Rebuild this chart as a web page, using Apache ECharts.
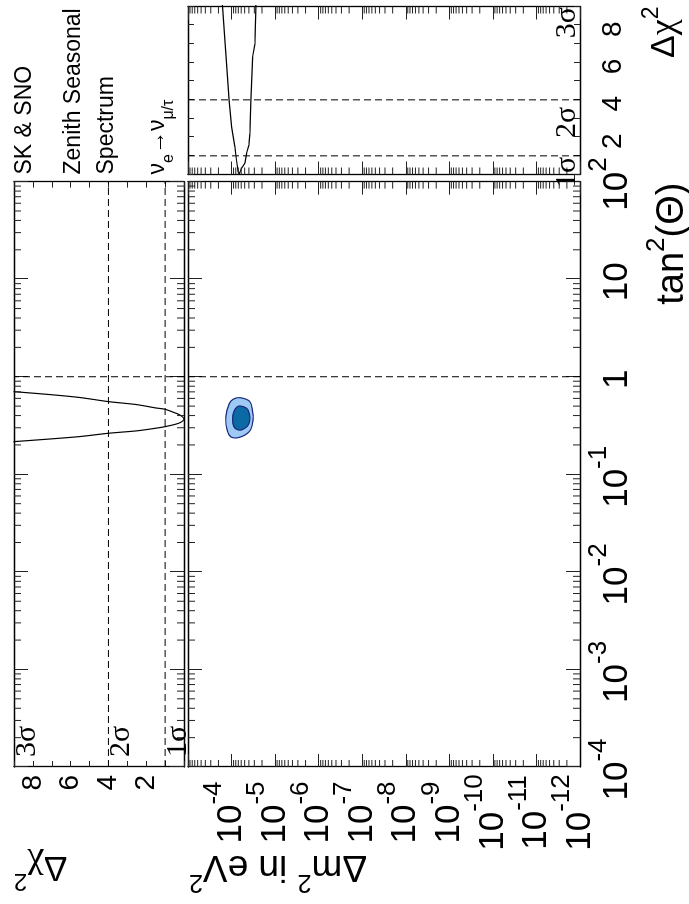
<!DOCTYPE html>
<html>
<head>
<meta charset="utf-8">
<title>SK &amp; SNO</title>
<script src="https://cdn.jsdelivr.net/npm/echarts@6.0.0/dist/echarts.min.js"></script>
<style>
html, body { margin:0; padding:0; width:689px; height:904px; overflow:hidden; background:#fff; }
#wrap { position:absolute; left:0; top:0; width:904px; height:689px; transform-origin:0 0; transform:translate(0px, 904px) rotate(-90deg); }
#chart { width:904px; height:689px; }
</style>
</head>
<body>
<div id="wrap"><div id="chart"></div></div>
<script>
// ---------------- data ----------------
const tanRange = [1e-4, 1e2];          // tan^2(Theta) axis
const dmRange = [1e-12, 1e-3];         // Delta m^2 axis (eV^2)
const chiRange = [0, 9];               // Delta chi^2 axis
const chiTickLabels = [2, 4, 6, 8];
const dmHiddenExp = [-3];
const sigmaLevels = [1, 4, 9];
const sigmaNames = ['1σ', '2σ', '3σ'];
const tanMarks = [1];
const legendLines = ['SK & SNO', 'Zenith Seasonal', 'Spectrum'];
const minorMult = [2, 3, 4, 5, 6, 7, 8, 9];

// Delta chi^2 versus tan^2(Theta)
const profTan    = [0.731, 0.7035, 0.654, 0.612, 0.556, 0.518, 0.479, 0.464, 0.428, 0.404, 0.3667, 0.339, 0.324, 0.308, 0.2965, 0.2789, 0.2635, 0.2438, 0.2309, 0.2162, 0.210];
const profTanChi = [10, 9, 7, 5.5, 4, 2.5, 1.5, 1, 0.5, 0.2, 0, 0.2, 0.5, 1, 1.5, 2.5, 4, 5.5, 7, 9, 10];

// Delta chi^2 versus Delta m^2
const profDm    = [1.65e-4, 1.61e-4, 1.134e-4, 1.0e-4, 8.4e-5, 7.69e-5, 7.04e-5, 6.68e-5, 5.9e-5, 5.41e-5, 4.95e-5, 4.53e-5, 4.01e-5, 3.8e-5, 3.6e-5, 3.3e-5, 2.92e-5, 2.77e-5, 2.74e-5];
const profDmChi = [9.3, 8.93, 3.96, 2.54, 1.48, 0.77, 0.15, 0.03, 0.33, 0.47, 0.6, 1.13, 1.57, 2.19, 3.96, 6.27, 6.98, 8.93, 9.3];

// allowed regions (outer and inner contour)
const outerTan = [0.6106, 0.5556, 0.4387, 0.3754, 0.2848, 0.2432, 0.2398, 0.2848, 0.3899, 0.526, 0.5877];
const outerDm  = [6.45e-5, 3.80e-5, 3.294e-5, 3.19e-5, 3.66e-5, 5.89e-5, 1.0e-4, 1.262e-4, 1.352e-4, 1.135e-4, 9.19e-5];
const innerTan = [0.502, 0.4753, 0.4223, 0.3754, 0.3206, 0.2896, 0.2848, 0.308, 0.3754, 0.4387, 0.4867];
const innerDm  = [6.45e-5, 4.52e-5, 3.94e-5, 3.80e-5, 4.16e-5, 5.41e-5, 7.05e-5, 8.86e-5, 9.48e-5, 8.86e-5, 7.68e-5];

// ---------------- styling ----------------
const FONT = '"Liberation Sans", Arial, Helvetica, sans-serif';
const SERIF = '"Liberation Serif", "Times New Roman", serif';
const INK = '#000';
const contours = [
  { tan: outerTan, dm: outerDm, fill: '#9dcaf5' },
  { tan: innerTan, dm: innerDm, fill: '#0b69a3' }
];

function expOf(v) { return Math.round(Math.log10(v)); }
function powLabel(v, hidden) {
  const e = expOf(v);
  if (hidden.indexOf(e) >= 0) return '';
  if (e === 0) return '{b|1}';
  if (e === 1) return '{b|10}';
  return '{b|10}{s|' + e + '}';
}
const dmMinExp = expOf(dmRange[0]);
const dmLabelMain = v => (expOf(v) === dmMinExp ? '' : powLabel(v, dmHiddenExp));
const dmLabelMin = v => (expOf(v) === dmMinExp ? powLabel(v, []) : '');
// compact line box (30px) so neighbouring labels do not collide; the exponent is raised by its bottom padding
const powRich = {
  b: { fontSize: 35, fontFamily: FONT, color: INK, lineHeight: 30 },
  s: { fontSize: 26, fontFamily: FONT, color: INK, lineHeight: 30, padding: [0, 0, 36, 0] }
};
function minorValues(range) {
  const out = [];
  for (let e = expOf(range[0]); e < expOf(range[1]); e++)
    for (const k of minorMult) out.push(k * Math.pow(10, e));
  return out;
}
const chiLabelFmt = v => (Math.abs(v - Math.round(v)) < 1e-9 && chiTickLabels.indexOf(Math.round(v)) >= 0) ? String(Math.round(v)) : '';

const axisLine = { show: true, onZero: false, lineStyle: { color: INK, width: 1.3 } };
const tickStyle = { color: '#222', width: 1 };
function logAxis(gridIndex, position, range, tickLen, axisLabel) {
  return { gridIndex, type: 'log', logBase: 10, min: range[0], max: range[1], splitNumber: 10, position,
    axisLine, axisTick: { show: true, inside: true, length: tickLen, lineStyle: tickStyle },
    minorTick: { show: false }, splitLine: { show: false }, axisLabel: axisLabel || { show: false },
    axisPointer: { show: false }, silent: true };
}
function chiAxis(gridIndex, position, axisLabel) {
  return { gridIndex, type: 'value', min: chiRange[0], max: chiRange[1], interval: 1, position,
    axisLine, axisTick: { show: true, inside: true, length: 6, lineStyle: tickStyle },
    splitLine: { show: false }, axisLabel: axisLabel || { show: false },
    axisPointer: { show: false }, silent: true };
}

function minorTickItem(params, api) {
  const cs = params.coordSys;
  const L = 7;
  const style = { stroke: '#222', lineWidth: 1 };
  const p = api.coord([api.value(0), api.value(1)]);
  if (api.value(2) === 0) {
    const x = p[0];
    return { type: 'group', children: [
      { type: 'line', shape: { x1: x, y1: cs.y + cs.height, x2: x, y2: cs.y + cs.height - L }, style },
      { type: 'line', shape: { x1: x, y1: cs.y, x2: x, y2: cs.y + L }, style }
    ] };
  }
  const y = p[1];
  return { type: 'group', children: [
    { type: 'line', shape: { x1: cs.x, y1: y, x2: cs.x + L, y2: y }, style },
    { type: 'line', shape: { x1: cs.x + cs.width, y1: y, x2: cs.x + cs.width - L, y2: y }, style }
  ] };
}

const xy = (xs, ys) => xs.map((x, i) => [x, ys[i]]);
const dashStyle = { color: INK, width: 1, type: [7, 4] };
function dashed(xi, yi, pts) {
  return { type: 'line', xAxisIndex: xi, yAxisIndex: yi, data: pts, symbol: 'none', showSymbol: false,
    lineStyle: dashStyle, silent: true, animation: false, z: 3 };
}

const series = [];
// dashed guide lines
sigmaLevels.filter(l => l < chiRange[1]).forEach(l => {
  series.push(dashed(2, 2, [[tanRange[0], l], [tanRange[1], l]]));
  series.push(dashed(4, 4, [[l, dmRange[0]], [l, dmRange[1]]]));
});
tanMarks.forEach(t => {
  series.push(dashed(2, 2, [[t, chiRange[0]], [t, chiRange[1]]]));
  series.push(dashed(0, 0, [[t, dmRange[0]], [t, dmRange[1]]]));
});
// profile curves
series.push({ type: 'line', xAxisIndex: 2, yAxisIndex: 2, data: xy(profTan, profTanChi), symbol: 'none', showSymbol: false,
  smooth: 0.25, clip: true, lineStyle: { color: INK, width: 1.2 }, silent: true, animation: false, z: 4 });
series.push({ type: 'line', xAxisIndex: 4, yAxisIndex: 4, data: xy(profDmChi, profDm), symbol: 'none', showSymbol: false,
  smooth: false, clip: true, lineStyle: { color: INK, width: 1.2 }, silent: true, animation: false, z: 4 });
// contours
series.push({ type: 'custom', xAxisIndex: 0, yAxisIndex: 0, data: [[0.37, 6e-5, 0], [0.37, 6e-5, 1]],
  renderItem: (params, api) => {
    const c = contours[api.value(2)];
    const pts = c.tan.map((t, i) => api.coord([t, c.dm[i]]));
    return { type: 'polygon', shape: { points: pts, smooth: 0.4 }, style: { fill: c.fill, stroke: '#1b2a80', lineWidth: 1.2 } };
  }, silent: true, animation: false, z: 2 });
// minor log ticks
series.push({ type: 'custom', xAxisIndex: 0, yAxisIndex: 0, renderItem: minorTickItem, silent: true, animation: false, z: 5,
  data: minorValues(tanRange).map(v => [v, 1e-6, 0]).concat(minorValues(dmRange).map(v => [1, v, 1])) });
series.push({ type: 'custom', xAxisIndex: 2, yAxisIndex: 2, renderItem: minorTickItem, silent: true, animation: false, z: 5,
  data: minorValues(tanRange).map(v => [v, 4, 0]) });
series.push({ type: 'custom', xAxisIndex: 4, yAxisIndex: 4, renderItem: minorTickItem, silent: true, animation: false, z: 5,
  data: minorValues(dmRange).map(v => [4, v, 1]) });

const dmLabelBase = { show: true, margin: 45.5, align: 'center', color: INK, fontFamily: FONT, fontSize: 35,
  hideOverlap: false, rich: powRich };

const option = {
  animation: false,
  backgroundColor: '#fff',
  textStyle: { fontFamily: FONT, color: INK },
  grid: [
    { left: 137, top: 188, width: 585.4, height: 392, containLabel: false, outerBoundsMode: 'none' },
    { left: 137, top: 14, width: 585.4, height: 170, containLabel: false, outerBoundsMode: 'none' },
    { left: 729.5, top: 188, width: 168, height: 392, containLabel: false, outerBoundsMode: 'none' }
  ],
  xAxis: [
    logAxis(0, 'bottom', tanRange, 14, { show: true, margin: 22, color: INK, fontFamily: FONT, fontSize: 35, padding: [0, 5, 0, 0],
      hideOverlap: false, showMinLabel: true, showMaxLabel: true, formatter: v => powLabel(v, []), rich: powRich }),
    logAxis(0, 'top', tanRange, 14),
    logAxis(1, 'bottom', tanRange, 14),
    logAxis(1, 'top', tanRange, 14),
    chiAxis(2, 'bottom', { show: true, margin: 19, color: INK, fontFamily: FONT, fontSize: 28, padding: [0, 8, 0, 0],
      hideOverlap: false, showMinLabel: true, showMaxLabel: true, formatter: chiLabelFmt }),
    chiAxis(2, 'top')
  ],
  yAxis: [
    logAxis(0, 'left', dmRange, 13, Object.assign({}, dmLabelBase, { showMinLabel: false, showMaxLabel: true, formatter: dmLabelMain })),
    logAxis(0, 'right', dmRange, 13),
    chiAxis(1, 'left', { show: true, margin: 8, color: INK, fontFamily: FONT, fontSize: 28, padding: [0, 0, 6, 0],
      hideOverlap: false, showMinLabel: true, showMaxLabel: true, formatter: chiLabelFmt }),
    chiAxis(1, 'right'),
    logAxis(2, 'left', dmRange, 13),
    logAxis(2, 'right', dmRange, 13),
    // companion axis carrying only the lowest Delta m^2 label
    Object.assign(logAxis(0, 'left', dmRange, 13, Object.assign({}, dmLabelBase, { showMinLabel: true, showMaxLabel: false, formatter: dmLabelMin })),
      { axisLine: { show: false, onZero: false }, axisTick: { show: false } })
  ],
  series
};

const chart = echarts.init(document.getElementById('chart'), null, { renderer: 'canvas', width: 904, height: 689, devicePixelRatio: 1 });
chart.setOption(option);

// ---------------- annotations placed through the grids' scales ----------------
const P = (g, pt) => chart.convertToPixel({ gridIndex: g }, pt);
function txt(x, y, text, st, rot) {
  const s = Object.assign({ text, fill: INK, fontFamily: FONT, fontSize: 23, align: 'left', verticalAlign: 'middle' }, st || {});
  s.textAlign = s.align; s.textVerticalAlign = s.verticalAlign;
  return { type: 'text', x, y, rotation: rot || 0, silent: true, z: 10, style: s };
}
function nameRich(F, S, pad) {
  return {
    a: { fontSize: F, fontFamily: FONT, fill: INK },
    c: { fontSize: F + 2, fontFamily: SERIF, fill: INK },
    s: { fontSize: S, fontFamily: FONT, fill: INK, padding: [0, 0, pad, 0] },
    u: { fontSize: S, fontFamily: FONT, fill: INK, padding: [pad, 0, 0, 0] }
  };
}
const els = [];
sigmaLevels.forEach((lv, i) => {
  const p = P(1, [tanRange[0], lv]);
  els.push(txt(p[0] + 10, p[1] - 2, sigmaNames[i], { fontFamily: SERIF, fontSize: 30, align: 'left', verticalAlign: 'top' }));
});
const sigShift = [1, 7, 0.5];
sigmaLevels.forEach((lv, i) => {
  const p = P(2, [lv, dmRange[0]]);
  els.push(txt(p[0] - sigShift[i], p[1] - 12.5, sigmaNames[i], { fontFamily: SERIF, fontSize: 30, align: 'right', verticalAlign: 'middle' }));
});
const pTan = P(0, [tanRange[1], dmRange[0]]);
els.push(txt(pTan[0] - 1, 673, '{a|tan}{s|2}{a|(Θ)}', { rich: nameRich(38, 26, 32), align: 'right' }));
const pDm = P(0, [tanRange[0], dmRange[1]]);
els.push(txt(37.5, pDm[1] + 1, '{a|Δm}{s|2}{a| in eV}{s|2}', { rich: nameRich(37, 25, 30), align: 'right' }, Math.PI / 2));
const pChiL = P(1, [tanRange[0], chiRange[1]]);
els.push(txt(37.5, pChiL[1], '{a|Δ}{c|χ}{s|2}', { rich: nameRich(35, 24, 28), align: 'right' }, Math.PI / 2));
const pChiR = P(2, [chiRange[1], dmRange[0]]);
els.push(txt(pChiR[0], 665, '{a|Δ}{c|χ}{s|2}', { rich: nameRich(34, 23, 27), align: 'right' }));
const pLeg = P(2, [chiRange[0], dmRange[1]]);
const legY = [25, 74, 107];
legendLines.forEach((t, i) => els.push(txt(pLeg[0], legY[i], t, { fontSize: 23, align: 'left' })));
els.push(txt(pLeg[0], 158, '{a|ν}{u|e}{a|→ν}{u|μ/τ}', { rich: nameRich(23, 16, 22), align: 'left' }));

chart.setOption({ graphic: { elements: els } });
</script>
</body>
</html>
